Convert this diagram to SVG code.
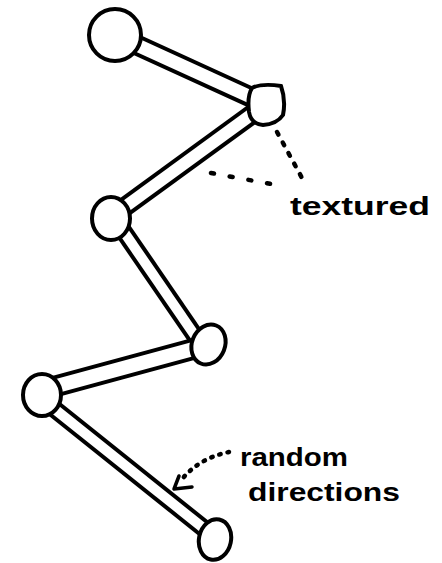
<svg xmlns="http://www.w3.org/2000/svg" width="442" height="563" viewBox="0 0 442 563">
<style>
.outer{stroke:#000;fill:none;stroke-linecap:butt}
.inner{stroke:#fff;fill:none;stroke-linecap:butt}
.node{fill:#fff;stroke:#000;stroke-width:4}
.dots{fill:none;stroke:#000;stroke-width:4.5;stroke-linecap:round}
.solid{fill:none;stroke:#000;stroke-width:3.5;stroke-linecap:round;stroke-linejoin:round}
.lbl{font-family:"Liberation Sans",Arial,sans-serif;font-weight:bold;font-size:25px;fill:#000}
</style>
<rect width="442" height="563" fill="#fff"/>
<g id="connectors">
  <g id="bone1"><path class="outer" stroke-width="21" d="M115,35 L266,104"/><path class="inner" stroke-width="13" d="M115,35 L266,104"/></g>
  <g id="bone2"><path class="outer" stroke-width="20" d="M266,104 L111,217"/><path class="inner" stroke-width="12" d="M266,104 L111,217"/></g>
  <g id="bone3"><path class="outer" stroke-width="18" d="M113,216 L200,343"/><path class="inner" stroke-width="10" d="M113,216 L200,343"/></g>
  <g id="bone4"><path class="outer" stroke-width="22" d="M42,390 L208,345"/><path class="inner" stroke-width="14" d="M42,390 L208,345"/></g>
  <g id="bone5"><path class="outer" stroke-width="18" d="M42,399 L212,535"/><path class="inner" stroke-width="10" d="M42,399 L212,535"/></g>
  <g id="textured-pointers">
    <path class="dots" stroke-dasharray="3 9" d="M277,132 L302,178"/>
    <path class="dots" stroke-dasharray="3 16" d="M211,173 L282,186"/>
  </g>
  <g id="random-pointer">
    <path class="dots" stroke-dasharray="1.5 7" d="M229,452 Q200,458 183,478"/>
    <path class="solid" d="M179,476 L174,489 L192,487"/>
  </g>
</g>
<g id="node1"><circle class="node" cx="115" cy="35" r="26"/></g>
<g id="node2"><path class="node" d="M252,88 Q262,83 281,86 Q286,100 283,115 Q277,124 263,125 Q251,124 249,112 Q247,96 252,88 Z"/></g>
<g id="node3"><ellipse class="node" cx="111" cy="218.5" rx="19" ry="21.5"/></g>
<g id="node4"><ellipse class="node" cx="208.5" cy="344.5" rx="16.5" ry="20.5" transform="rotate(22 208.5 344.5)"/></g>
<g id="node5"><ellipse class="node" cx="42" cy="395" rx="19" ry="21"/></g>
<g id="node6"><ellipse class="node" cx="215" cy="539.5" rx="16" ry="20.5" transform="rotate(12 215 539.5)"/></g>
<g id="label-textured"><text class="lbl" x="290" y="215" textLength="140" lengthAdjust="spacingAndGlyphs">textured</text></g>
<g id="label-random"><text class="lbl" x="240" y="466" textLength="108" lengthAdjust="spacingAndGlyphs">random</text><text class="lbl" x="248" y="501" textLength="152" lengthAdjust="spacingAndGlyphs">directions</text></g>
</svg>
